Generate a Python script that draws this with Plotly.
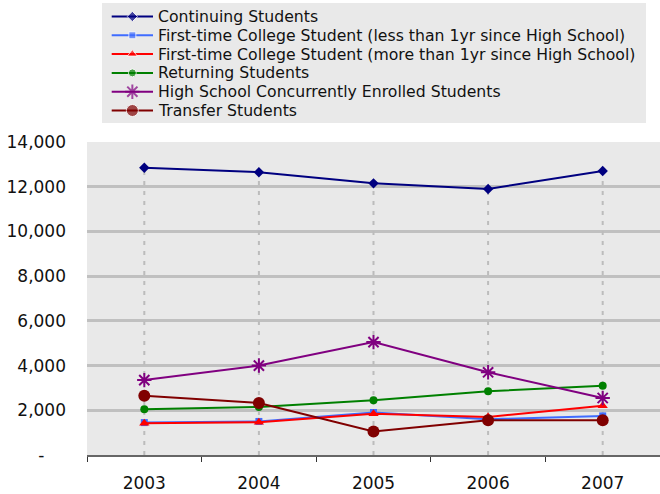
import plotly.graph_objects as go

years = ["2003", "2004", "2005", "2006", "2007"]
continuing = [12850, 12650, 12150, 11900, 12700]
first_less = [1450, 1500, 1900, 1600, 1750]
first_more = [1420, 1470, 1850, 1700, 2200]
returning = [2050, 2150, 2450, 2850, 3100]
hs_concurrent = [3350, 4000, 5050, 3700, 2550]
transfer = [2650, 2330, 1050, 1550, 1550]

names = [
    "Continuing Students",
    "First-time College Student (less than 1yr since High School)",
    "First-time College Student (more than 1yr since High School)",
    "Returning Students",
    "High School Concurrently Enrolled Students",
    "Transfer Students",
]
series = [continuing, first_less, first_more, returning, hs_concurrent, transfer]
colors = ["#000080", "#3f6cff", "#ff0000", "#008000", "#800080", "#800000"]
symbols = ["diamond", "square", "triangle-up", "circle", "asterisk", "circle"]
sizes = [8, 7, 9, 8, 12, 12]

ytick_vals = [0, 2000, 4000, 6000, 8000, 10000, 12000, 14000]
ytick_text = ["-&nbsp;&nbsp;&nbsp;&nbsp;", "2,000", "4,000", "6,000", "8,000",
              "10,000", "12,000", "14,000"]

FONT = "DejaVu Sans"
TXT = "#111111"

# layout geometry (pixels)
W, H = 660, 494
ML, MB = 87, 39
PW, PH = W - ML, H - MB          # plotting region incl. legend area
PLOT_TOP = 142                    # top of value axis (14,000)
LEG_L, LEG_R, LEG_T, LEG_B = 102, 646, 3, 123
ROW0, ROW_STEP = 13.5, 18.8
SYM_X0, SYM_X1, TEXT_X = 9.7, 51.0, 55.0
LEG_FONT = 15.7

fig = go.Figure()

# drop lines from axis to highest point
dx, dy = [], []
for i, yr in enumerate(years):
    top = max(s[i] for s in series)
    dx += [yr, yr, None]
    dy += [0, top, None]
fig.add_trace(go.Scatter(x=dx, y=dy, mode="lines", showlegend=False, hoverinfo="skip",
                         line=dict(color="#bcbcbc", width=2, dash="4px,6px")))

for name, vals, c, sym, sz in zip(names, series, colors, symbols, sizes):
    marker = dict(symbol=sym, size=sz, color=c)
    if sym == "asterisk":
        marker["line"] = dict(color=c, width=2)
    fig.add_trace(go.Scatter(x=years, y=vals, name=name, mode="lines+markers",
                             showlegend=False,
                             line=dict(color=c, width=2), marker=marker))

# legend drawn in its own pixel-coordinate subplot
annotations = []
for i, (name, c, sym, sz) in enumerate(zip(names, colors, symbols, sizes)):
    ry = ROW0 + ROW_STEP * i
    marker = dict(symbol=sym, size=[0, sz, 0], color=c)
    if sym == "asterisk":
        marker["line"] = dict(color=c, width=2)
    fig.add_trace(go.Scatter(
        x=[SYM_X0, (SYM_X0 + SYM_X1) / 2, SYM_X1], y=[ry, ry, ry],
        xaxis="x2", yaxis="y2", mode="lines+markers", showlegend=False,
        hoverinfo="skip", line=dict(color=c, width=2), marker=marker))
    annotations.append(dict(
        x=TEXT_X, y=ry, xref="x2", yref="y2", text=name, showarrow=False,
        xanchor="left", yanchor="middle", borderpad=0,
        font=dict(family=FONT, size=LEG_FONT, color=TXT)))

leg_w = LEG_R - LEG_L
leg_h = LEG_B - LEG_T

fig.update_layout(
    width=W, height=H,
    margin=dict(l=ML, r=0, t=0, b=MB, autoexpand=False),
    paper_bgcolor="white",
    plot_bgcolor="#e9e9e9",
    font=dict(family=FONT, size=17, color=TXT),
    showlegend=False,
    annotations=annotations,
    xaxis=dict(
        type="category", categoryorder="array", categoryarray=years,
        range=[-0.5, 4.5], showgrid=False, tickson="boundaries",
        ticks="outside", ticklen=5, tickcolor="#333333", tickwidth=1,
        showline=True, linecolor="#666666", linewidth=2,
        ticklabelstandoff=12, automargin=False,
        tickfont=dict(family=FONT, size=17, color=TXT),
        fixedrange=True, domain=[0, 1],
    ),
    yaxis=dict(
        range=[0, 14000], tickvals=ytick_vals, ticktext=ytick_text,
        domain=[0, (H - MB - PLOT_TOP) / PH],
        showgrid=True, gridcolor="#c0c0c0", gridwidth=3,
        zeroline=False, showline=False, ticks="",
        ticklabelstandoff=20, automargin=False,
        tickfont=dict(family=FONT, size=17, color=TXT),
        fixedrange=True,
    ),
    xaxis2=dict(
        domain=[(LEG_L - ML) / PW, (LEG_R - ML) / PW], range=[0, leg_w],
        anchor="y2", visible=False, fixedrange=True, automargin=False,
    ),
    yaxis2=dict(
        domain=[(PH - LEG_B) / PH, (PH - LEG_T) / PH], range=[leg_h, 0],
        anchor="x2", visible=False, fixedrange=True, automargin=False,
    ),
)

fig.write_html("out.html", config={"displayModeBar": False},
               post_script="document.body.style.margin='0px';")
